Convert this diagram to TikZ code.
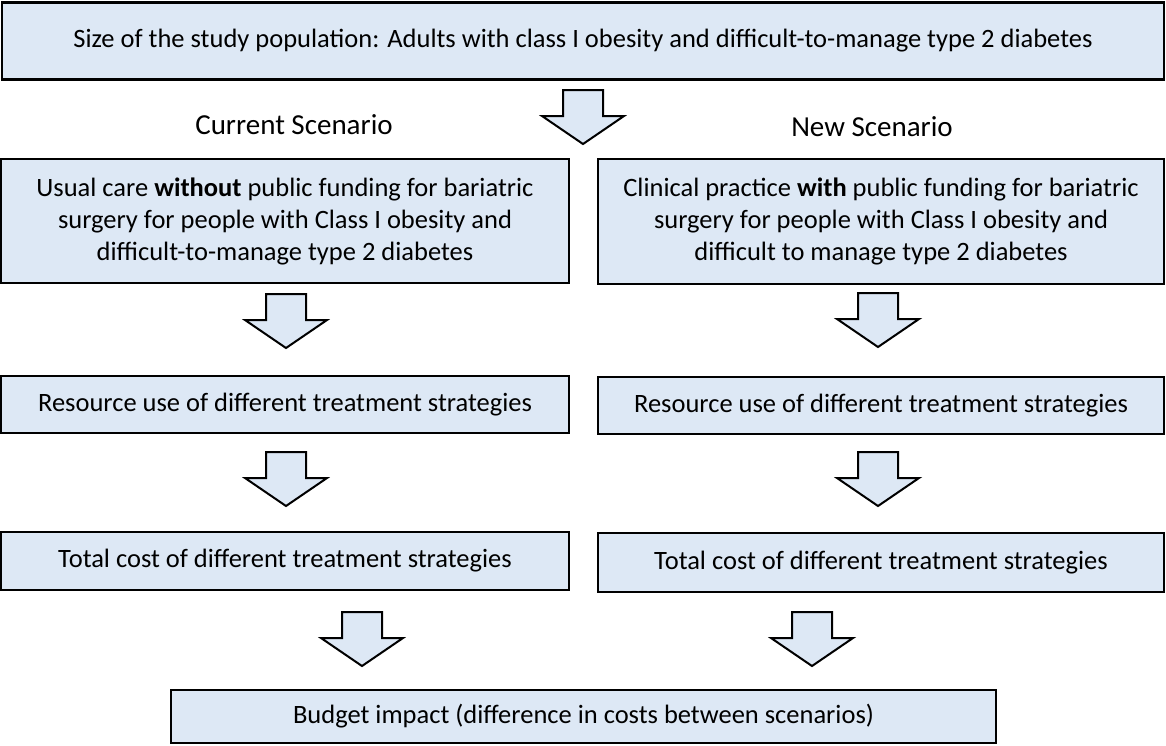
\documentclass[tikz,border=0pt]{standalone}
\usepackage{fontspec}
\setmainfont{Carlito}
\usepackage{tikz}

\definecolor{boxblue}{RGB}{221,232,245}

\tikzset{
  box/.style={draw=black, line width=2.8pt, fill=boxblue, inner sep=0pt,
    align=center, font=\fontsize{26.5}{32}\selectfont},
  heading/.style={font=\fontsize{29}{34}\selectfont},
  % block arrow, centred on its placement point
  downarrow/.pic={
    \draw[line width=2pt, fill=boxblue, line join=miter]
      (-20,-27) -- (20,-27) -- (20,-1) -- (41,-1) -- (0,27) -- (-41,-1) -- (-20,-1) -- cycle;
  }
}

\begin{document}
\begin{tikzpicture}[x=1pt,y=-1pt]
\useasboundingbox (0,0) rectangle (1166,745);

\node[box, minimum width=1162pt, minimum height=77pt] (pop) at (583,41)
  {Size of the study population: Adults with class I obesity and difficult-to-manage type 2 diabetes};

\node[heading] (cur) at (294,125) {Current Scenario};
\node[heading] (new) at (872,127) {New Scenario};

% current scenario column
\node[box, minimum width=568pt, minimum height=124pt] (usual) at (285,221)
  {Usual care \textbf{without} public funding for bariatric\\
   surgery for people with Class I obesity and\\
   difficult-to-manage type 2 diabetes};
\node[box, minimum width=568pt, minimum height=57pt] (resL) at (285,404.5)
  {Resource use of different treatment strategies};
\node[box, minimum width=568pt, minimum height=58pt] (costL) at (285,561)
  {Total cost of different treatment strategies};

% new scenario column
\node[box, minimum width=566pt, minimum height=125pt] (clinical) at (881,221.5)
  {Clinical practice \textbf{with} public funding for bariatric\\
   surgery for people with Class I obesity and\\
   difficult to manage type 2 diabetes};
\node[box, minimum width=566pt, minimum height=57pt] (resR) at (881,405.5)
  {Resource use of different treatment strategies};
\node[box, minimum width=566pt, minimum height=59pt] (costR) at (881,562.5)
  {Total cost of different treatment strategies};

\node[box, minimum width=825pt, minimum height=53pt] (impact) at (583.5,716.5)
  {Budget impact (difference in costs between scenarios)};

% arrows
\pic at (583,117) {downarrow};
\pic at (286,321) {downarrow};
\pic at (878,320) {downarrow};
\pic at (286,479) {downarrow};
\pic at (878,479) {downarrow};
\pic at (362,639) {downarrow};
\pic at (812,639) {downarrow};
\end{tikzpicture}
\end{document}
